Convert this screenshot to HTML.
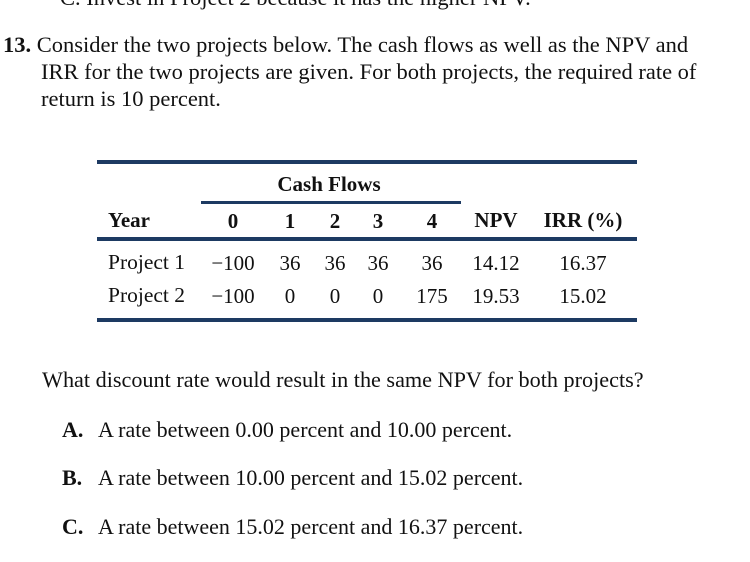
<!DOCTYPE html>
<html><head><style>
body{margin:0;width:750px;height:562px;background:#fff;overflow:hidden;position:relative;color:#111}
.t,.c{font-family:"Liberation Serif","Times New Roman",Times,serif;position:absolute;white-space:nowrap;line-height:1}
.t{font-size:22.5px}
.c{font-size:21px;transform:translateX(-50%)}
.b{font-weight:bold}
.ln{position:absolute;background:#1d3a62}
.o{font-size:22px}
</style></head><body>
<div class="t" style="left:60px;top:-13px">C. Invest in Project 2 because it has the higher NPV.</div>
<div class="t" style="left:3px;top:34px"><b>13.</b> Consider the two projects below. The cash flows as well as the NPV and</div>
<div class="t" style="left:41px;top:61px">IRR for the two projects are given. For both projects, the required rate of</div>
<div class="t" style="left:41px;top:88px">return is 10 percent.</div>

<div class="ln" style="left:97px;top:160px;width:540px;height:4px"></div>
<div class="ln" style="left:201px;top:201px;width:260px;height:3px"></div>
<div class="ln" style="left:97px;top:237px;width:540px;height:4px"></div>
<div class="ln" style="left:97px;top:318px;width:540px;height:4px"></div>

<div class="c b" style="left:329px;top:174px">Cash Flows</div>
<div class="t b" style="left:108px;top:210px;font-size:21px">Year</div>
<div class="c b" style="left:233px;top:211px">0</div>
<div class="c b" style="left:290px;top:211px">1</div>
<div class="c b" style="left:335px;top:211px">2</div>
<div class="c b" style="left:378px;top:211px">3</div>
<div class="c b" style="left:432px;top:211px">4</div>
<div class="c b" style="left:496px;top:210px">NPV</div>
<div class="c b" style="left:583px;top:210px">IRR (%)</div>

<div class="t" style="left:108px;top:252px;font-size:21.5px">Project 1</div>
<div class="c" style="left:233px;top:253px">−100</div>
<div class="c" style="left:290px;top:253px">36</div>
<div class="c" style="left:335px;top:253px">36</div>
<div class="c" style="left:378px;top:253px">36</div>
<div class="c" style="left:432px;top:253px">36</div>
<div class="c" style="left:496px;top:253px">14.12</div>
<div class="c" style="left:583px;top:253px">16.37</div>

<div class="t" style="left:108px;top:285px;font-size:21.5px">Project 2</div>
<div class="c" style="left:233px;top:286px">−100</div>
<div class="c" style="left:290px;top:286px">0</div>
<div class="c" style="left:335px;top:286px">0</div>
<div class="c" style="left:378px;top:286px">0</div>
<div class="c" style="left:432px;top:286px">175</div>
<div class="c" style="left:496px;top:286px">19.53</div>
<div class="c" style="left:583px;top:286px">15.02</div>

<div class="t" style="left:42px;top:369px;font-size:22.2px">What discount rate would result in the same NPV for both projects?</div>
<div class="t o" style="left:62px;top:419px"><b>A.</b><span style="position:absolute;left:36px">A rate between 0.00 percent and 10.00 percent.</span></div>
<div class="t o" style="left:62px;top:467px"><b>B.</b><span style="position:absolute;left:36px">A rate between 10.00 percent and 15.02 percent.</span></div>
<div class="t o" style="left:62px;top:516px"><b>C.</b><span style="position:absolute;left:36px">A rate between 15.02 percent and 16.37 percent.</span></div>
</body></html>
